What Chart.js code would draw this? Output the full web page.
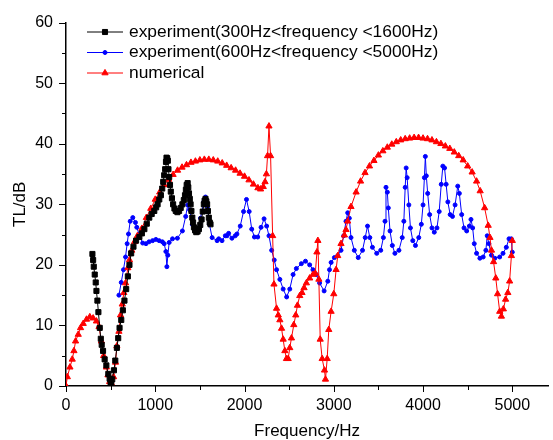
<!DOCTYPE html>
<html><head><meta charset="utf-8">
<script src="https://cdn.jsdelivr.net/npm/chart.js@4.4.1/dist/chart.umd.min.js"></script>
<style>html,body{margin:0;padding:0;background:#fff;overflow:hidden}canvas{display:block}</style>
</head><body>
<canvas id="c" width="553" height="440"></canvas>
<script>
// ---------- DATA ----------
const seriesLabels = ['experiment(300Hz<frequency <1600Hz)', 'experiment(600Hz<frequency <5000Hz)', 'numerical'];
const xTickLabels = [0, 1000, 2000, 3000, 4000, 5000];
const yTickLabels = [0, 10, 20, 30, 40, 50, 60];
const xTitle = 'Frequency/Hz';
const yTitle = 'TL/dB';

const expLowFreq = [296,304,311,322,333,341,352,363,378,390,400,415,433,452,474,489,500,507,518,537,552,570,585,600,619,637,655,674,693,711,730,756,785,822,850,878,905,933,960,989,1010,1026,1045,1063,1078,1089,1100,1111,1120,1126,1134,1141,1148,1156,1165,1174,1187,1200,1215,1230,1248,1267,1285,1304,1320,1333,1343,1352,1363,1370,1378,1387,1396,1405,1415,1424,1433,1446,1459,1474,1489,1504,1519,1532,1544,1553,1563,1572,1581,1590,1600,1610,1619];
const expLowTL = [21.8,20.8,19.7,18.4,17.1,15.7,14.1,12.2,9.6,7.8,6.8,5.8,4.4,3.4,2.0,1.2,0.6,0.4,1.1,2.6,4.2,6.3,7.9,9.6,10.9,12.5,14.1,16.0,18.1,20.0,21.9,23.0,24.0,24.6,25.2,25.9,26.8,27.8,28.4,28.9,29.5,30.0,30.8,31.5,32.6,33.7,34.8,35.8,37.0,37.7,37.6,37.2,35.8,34.5,33.2,32.1,31.0,30.0,29.3,28.9,28.7,28.9,29.4,30.0,30.7,31.5,32.4,33.2,33.5,32.8,31.8,30.9,30.0,28.9,27.8,27.0,26.2,25.7,25.4,25.5,25.9,26.6,27.5,28.8,30.0,30.6,30.9,30.5,30.0,28.9,27.8,27.0,26.7];

const expHighFreq = [593,619,644,667,685,700,719,748,778,793,822,859,896,930,970,1007,1044,1080,1100,1119,1130,1141,1156,1193,1248,1304,1341,1363,1385,1415,1444,1470,1507,1544,1563,1585,1607,1637,1693,1711,1748,1785,1804,1822,1859,1896,1915,1952,1989,2022,2052,2081,2111,2148,2185,2219,2248,2274,2304,2333,2359,2396,2433,2472,2507,2544,2581,2637,2683,2730,2767,2804,2841,2892,2933,2952,2970,3007,3044,3081,3111,3137,3156,3174,3193,3230,3274,3322,3352,3378,3404,3433,3481,3526,3556,3574,3585,3600,3611,3630,3656,3685,3730,3767,3785,3800,3811,3822,3841,3859,3885,3915,3952,3981,4000,4015,4026,4037,4052,4074,4100,4126,4156,4181,4204,4222,4241,4259,4278,4304,4330,4359,4389,4407,4433,4459,4489,4519,4537,4556,4574,4600,4637,4674,4704,4719,4737,4767,4804,4859,4896,4933,4963,4989,5000];
const expHighTL = [15.0,17.1,19.2,21.3,23.5,25.1,27.2,27.8,27.0,26.2,24.9,23.6,23.5,23.8,24.0,24.2,24.0,23.8,23.5,22.2,19.7,21.6,23.7,24.3,24.4,25.6,28.0,29.9,29.1,26.7,25.6,25.9,27.7,30.4,31.2,29.6,26.7,24.5,24.0,24.3,24.0,24.8,24.8,25.2,24.4,24.8,25.1,26.4,28.8,30.8,28.8,25.9,24.6,24.6,26.2,27.6,26.4,24.8,22.4,20.8,19.2,17.6,16.0,14.7,16.0,18.4,19.4,20.2,20.6,20.0,19.2,18.4,17.0,15.7,17.3,19.2,20.4,21.2,21.5,22.4,24.8,27.2,28.6,27.7,24.5,22.4,21.2,22.4,24.5,26.4,24.5,22.9,21.9,22.4,24.5,27.2,32.8,32.0,29.4,25.6,23.2,21.9,22.4,24.5,27.2,32.8,36.0,34.4,29.9,26.1,24.0,23.2,24.5,26.7,29.9,34.4,37.9,34.7,31.8,28.3,26.1,25.4,26.1,28.8,33.3,36.3,36.0,33.3,30.4,28.3,28.0,29.9,33.0,31.8,28.3,26.1,25.6,26.4,27.5,26.1,23.5,21.9,21.1,21.3,22.4,24.8,23.5,21.6,21.1,21.3,21.9,22.9,24.3,24.3,22.1];

const numFreq = [0,15,44,70,89,107,137,163,193,230,267,304,341,370,396,422,452,470,489,507,533,555,570,593,611,630,648,667,693,711,737,767,800,850,900,950,1000,1050,1100,1150,1200,1250,1300,1350,1400,1450,1500,1550,1600,1650,1700,1750,1800,1850,1900,1950,2000,2050,2100,2150,2180,2210,2230,2245,2258,2274,2292,2315,2330,2359,2378,2396,2415,2433,2452,2470,2489,2507,2526,2552,2574,2593,2619,2644,2667,2693,2730,2767,2793,2811,2822,2833,2848,2870,2896,2907,2926,2944,2970,3000,3026,3044,3081,3119,3137,3156,3193,3250,3300,3350,3400,3450,3500,3550,3600,3650,3700,3750,3800,3850,3900,3950,4000,4050,4100,4150,4200,4250,4300,4350,4400,4450,4500,4550,4600,4640,4690,4730,4750,4767,4790,4815,4835,4859,4878,4900,4925,4950,4970,4990,5000];
const numTL = [0,1.5,3.1,4.4,5.8,7.4,8.5,9.6,10.3,11.0,11.4,11.2,10.7,9.8,7.4,5.0,3.1,1.8,0.7,0.5,1.5,3.9,6.6,9.0,11.7,13.5,15.4,17.0,19.5,20.8,22.4,23.8,24.8,26.0,27.8,29.3,30.8,32.0,33.2,34.1,34.9,35.6,36.1,36.5,36.9,37.1,37.3,37.4,37.4,37.3,37.1,36.8,36.4,36.0,35.6,35.1,34.6,34.0,33.3,32.7,32.5,32.9,33.7,35.0,38.0,42.9,38.0,24.8,16.8,12.8,11.7,10.9,9.5,7.7,5.8,4.5,4.5,6.3,7.9,10.1,11.7,13.3,14.9,15.4,16.2,17.0,17.8,18.4,18.6,22.1,24.0,17.6,7.7,4.5,2.6,1.1,4.5,9.3,12.3,15.2,19.2,21.5,23.5,24.9,25.8,27.2,29.6,32.0,33.8,35.2,36.3,37.2,38.1,38.8,39.4,39.9,40.3,40.6,40.8,40.9,41.0,41.0,40.9,40.8,40.6,40.3,40.0,39.6,39.2,38.6,38.0,37.3,36.3,35.3,33.8,32.2,29.4,26.5,24.5,22.4,20.5,17.8,15.2,12.3,11.5,12.7,14.3,15.4,17.3,21.5,24.0];

// ---------- CHART ----------
const FONT = '"Liberation Sans", Arial, Helvetica, sans-serif';
function pts(f, v) { return f.map((x, i) => ({ x: x, y: v[i] })); }

const styles = [
  { color: '#000000', pointStyle: 'rect', radius: 3.6 },
  { color: '#0000ff', pointStyle: 'circle', radius: 2 },
  { color: '#ff0000', pointStyle: 'triangle', radius: 3.6 }
];

const decoPlugin = {
  id: 'deco',
  afterDraw(chart) {
    const ctx = chart.ctx;
    const xs = chart.scales.x, ys = chart.scales.y;
    const area = chart.chartArea;
    ctx.save();
    ctx.strokeStyle = '#000';
    ctx.lineWidth = 1;
    ctx.beginPath();
    for (let v = 0; v <= 5000; v += 500) {
      const px = Math.round(xs.getPixelForValue(v)) + 0.5;
      const len = v % 1000 === 0 ? 6 : 4;
      ctx.moveTo(px, area.bottom); ctx.lineTo(px, area.bottom + len);
    }
    for (let v = 0; v <= 60; v += 5) {
      const py = Math.round(ys.getPixelForValue(v)) + 0.5;
      const len = v % 10 === 0 ? 7 : 4;
      ctx.moveTo(area.left - len, py); ctx.lineTo(area.left, py);
    }
    ctx.stroke();
    // legend
    const rows = [32, 52.5, 73];
    ctx.font = '17.4px ' + FONT;
    ctx.textBaseline = 'middle';
    ctx.textAlign = 'left';
    chart.data.datasets.forEach((ds, i) => {
      const y = rows[i];
      ctx.strokeStyle = ds.borderColor;
      ctx.lineWidth = 1;
      ctx.beginPath(); ctx.moveTo(87, y); ctx.lineTo(123, y); ctx.stroke();
      ctx.fillStyle = ds.borderColor;
      Chart.helpers.drawPoint(ctx, { pointStyle: ds.pointStyle, radius: ds.pointRadius, rotation: 0, borderWidth: 1 }, 105, y);
      ctx.fillStyle = '#000';
      ctx.fillText(seriesLabels[i], 129, y);
    });
    ctx.restore();
  }
};

const datasets = [
  [expLowFreq, expLowTL, 0],
  [expHighFreq, expHighTL, 2],
  [numFreq, numTL, 1]
].map((d, i) => ({
  label: seriesLabels[i],
  data: pts(d[0], d[1]),
  order: d[2],
  borderColor: styles[i].color,
  backgroundColor: styles[i].color,
  pointBackgroundColor: styles[i].color,
  pointBorderColor: styles[i].color,
  pointStyle: styles[i].pointStyle,
  pointRadius: styles[i].radius,
  pointBorderWidth: 1,
  borderWidth: 1,
  tension: 0,
  fill: false
}));

const xTickValues = [];
for (let v = 0; v <= 5000; v += 500) xTickValues.push(v);
const yTickValues = [];
for (let v = 0; v <= 60; v += 5) yTickValues.push(v);

new Chart(document.getElementById('c'), {
  type: 'line',
  data: { datasets: datasets },
  options: {
    responsive: false,
    animation: false,
    devicePixelRatio: 1,
    layout: { padding: { top: 13, right: 0, bottom: 0, left: 0 } },
    plugins: { legend: { display: false }, tooltip: { enabled: false } },
    scales: {
      x: {
        type: 'linear', min: 0, max: 5400,
        afterFit(s) { s.height = 54; },
        afterBuildTicks(s) { s.ticks = xTickValues.map(v => ({ value: v })); },
        grid: { display: false, drawTicks: false },
        border: { display: true, color: '#000', width: 1.5 },
        ticks: {
          autoSkip: false, maxRotation: 0,
          padding: 10, color: '#000', font: { size: 16, family: FONT },
          callback: v => (xTickLabels.includes(v) ? String(v) : '')
        },
        title: { display: true, text: xTitle, color: '#000', font: { size: 17, family: FONT }, padding: { top: 0, bottom: -2 } }
      },
      y: {
        type: 'linear', min: 0, max: 60,
        afterFit(s) { s.width = 66; },
        afterBuildTicks(s) { s.ticks = yTickValues.map(v => ({ value: v })); },
        grid: { display: false, drawTicks: false },
        border: { display: true, color: '#000', width: 1.5 },
        ticks: {
          autoSkip: false, padding: 13, color: '#000', font: { size: 16, family: FONT },
          callback: v => (yTickLabels.includes(v) ? String(v) : '')
        },
        title: { display: true, text: yTitle, color: '#000', font: { size: 17, family: FONT }, padding: { top: 10, bottom: 0 } }
      }
    }
  },
  plugins: [decoPlugin]
});
</script>
</body></html>
